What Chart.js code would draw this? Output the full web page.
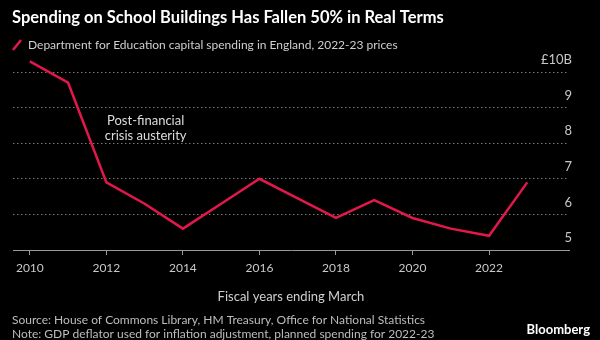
<!DOCTYPE html>
<html>
<head>
<meta charset="utf-8">
<script src="https://cdn.jsdelivr.net/npm/chart.js@4"></script>
<style>
  html, body { margin: 0; padding: 0; background: #000; }
  #wrap { width: 600px; height: 340px; position: relative; }
</style>
</head>
<body>
<div id="wrap"><canvas id="chartCanvas" width="600" height="340"></canvas></div>
<script>
// --- data ---
const years = [2010, 2011, 2012, 2013, 2014, 2015, 2016, 2017, 2018, 2019, 2020, 2021, 2022, 2023];
const spending = [10.3, 9.7, 6.9, 6.3, 5.6, 6.3, 7.0, 6.45, 5.9, 6.4, 5.9, 5.6, 5.4, 6.9];
const xTicks = [2010, 2012, 2014, 2016, 2018, 2020, 2022];
const yTicks = [5, 6, 7, 8, 9, 10];

const FONT = "Lato, 'Noto Sans', sans-serif";
const RED = "#e2184a";

// header, annotation and footer texts
const textPlugin = {
  id: "texts",
  afterDraw(chart) {
    const ctx = chart.ctx;
    ctx.save();
    ctx.textBaseline = "middle";

    ctx.fillStyle = "#fff";
    ctx.font = "bold 16.5px " + FONT;
    ctx.textAlign = "left";
    ctx.fillText("Spending on School Buildings Has Fallen 50% in Real Terms", 12, 18);

    // legend slash
    ctx.strokeStyle = RED;
    ctx.lineWidth = 2.5;
    ctx.beginPath();
    ctx.moveTo(13, 50);
    ctx.lineTo(21, 40);
    ctx.stroke();

    ctx.fillStyle = "#cfcfcf";
    ctx.font = "12px " + FONT;
    ctx.fillText("Department for Education capital spending in England, 2022-23 prices", 28, 45);

    // annotation
    const x = chart.scales.x.getPixelForValue(2013);
    ctx.textAlign = "center";
    ctx.fillStyle = "#dddddd";
    ctx.font = "13px " + FONT;
    ctx.fillText("Post-financial", x + 1, 121);
    ctx.fillText("crisis austerity", x + 1, 136);

    // footer
    ctx.textAlign = "left";
    ctx.fillStyle = "#bdbdbd";
    ctx.font = "12px " + FONT;
    ctx.fillText("Source: House of Commons Library, HM Treasury, Office for National Statistics", 12, 320);
    ctx.fillText("Note: GDP deflator used for inflation adjustment, planned spending for 2022-23", 12, 334);

    ctx.textAlign = "right";
    ctx.fillStyle = "#fff";
    ctx.font = "bold 13px " + FONT;
    ctx.fillText("Bloomberg", 590, 330);
    ctx.restore();
  }
};

const canvas = document.getElementById("chartCanvas");

new Chart(canvas, {
  type: "line",
  data: {
    datasets: [{
      label: "Spending",
      data: years.map((y, i) => ({ x: y, y: spending[i] })),
      borderColor: RED,
      borderWidth: 2.5,
      pointRadius: 0,
      tension: 0,
      clip: false
    }]
  },
  options: {
    responsive: false,
    animation: false,
    layout: { padding: { left: 13, right: 25, top: 56, bottom: 35 } },
    plugins: {
      legend: { display: false },
      tooltip: { enabled: false }
    },
    scales: {
      x: {
        type: "linear",
        min: 2009.56,
        max: 2024.09,
        afterBuildTicks: scale => { scale.ticks = xTicks.map(v => ({ value: v })); },
        ticks: {
          color: "#c8c8c8",
          font: { family: FONT, size: 12 },
          padding: 6,
          maxRotation: 0,
          callback: v => String(v)
        },
        grid: { drawOnChartArea: false, drawTicks: true, tickLength: 5, color: "#999" },
        border: { display: true, color: "#999", width: 1 },
        title: {
          display: true,
          text: "Fiscal years ending March",
          color: "#cfcfcf",
          font: { family: FONT, size: 13 },
          padding: { top: 8, bottom: 0 }
        }
      },
      y: {
        position: "right",
        min: 5,
        max: 10.45,
        afterBuildTicks: scale => { scale.ticks = yTicks.map(v => ({ value: v })); },
        ticks: {
          mirror: true,
          padding: 3,
          labelOffset: -12,
          color: "#c8c8c8",
          font: { family: FONT, size: 13 },
          callback: v => (v === 10 ? "£10B" : String(v))
        },
        grid: { color: "#777", drawTicks: false, lineWidth: 1 },
        border: { display: false, dash: [1.5, 2.5] }
      }
    }
  },
  plugins: [textPlugin]
});
</script>
</body>
</html>
